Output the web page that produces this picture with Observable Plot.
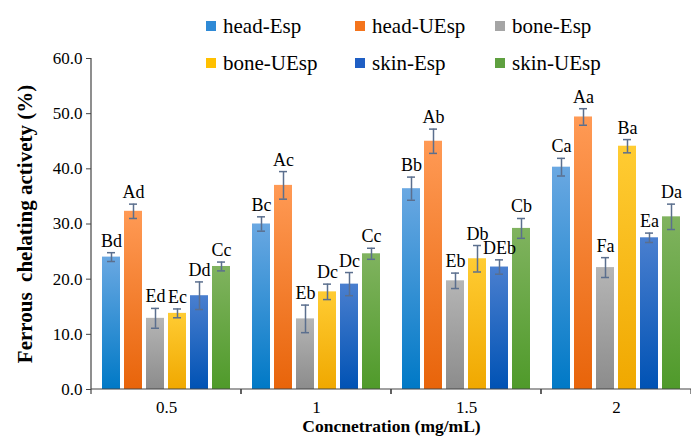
<!DOCTYPE html>
<html>
<head>
<meta charset="utf-8">
<script src="https://cdn.jsdelivr.net/npm/d3@7"></script>
<script src="https://cdn.jsdelivr.net/npm/@observablehq/plot@0.6"></script>
<style>
  html, body { margin: 0; padding: 0; background: #fff; font-family: "Liberation Serif", "Times New Roman", Times, serif; }
  #wrap { position: relative; width: 691px; height: 436px; font-family: "Liberation Serif", "Times New Roman", Times, serif; }
  #legend { position: absolute; left: 206px; top: 15px; display: grid; grid-template-columns: 149px 140px 140px; row-gap: 15px; font-size: 21px; color: #000; font-family: "Liberation Serif", "Times New Roman", Times, serif; }
  #legend .item { display: flex; align-items: center; height: 22px; white-space: nowrap; }
  #legend .sw { width: 10px; height: 10px; margin-right: 7px; flex: none; }
  svg text { font-family: "Liberation Serif", "Times New Roman", Times, serif; }
  svg [aria-label="fx-axis label"] text { font-weight: bold; font-size: 17.5px; }
  svg [aria-label="y-axis label"] text { font-weight: bold; font-size: 21px; }
</style>
</head>
<body>
<div id="wrap"><div id="legend"></div></div>
<script>
// ---- data ----
const concentrations = ["0.5", "1", "1.5", "2"];
const seriesNames = ["head-Esp", "head-UEsp", "bone-Esp", "bone-UEsp", "skin-Esp", "skin-UEsp"];

const headEspMean = [24.0, 30.0, 36.4, 40.3];
const headEspErr = [0.8, 1.3, 2.1, 1.6];
const headEspLabel = ["Bd", "Bc", "Bb", "Ca"];

const headUEspMean = [32.3, 37.0, 45.0, 49.4];
const headUEspErr = [1.3, 2.5, 2.2, 1.5];
const headUEspLabel = ["Ad", "Ac", "Ab", "Aa"];

const boneEspMean = [12.9, 12.8, 19.7, 22.1];
const boneEspErr = [1.8, 2.5, 1.4, 1.8];
const boneEspLabel = ["Ed", "Eb", "Eb", "Fa"];

const boneUEspMean = [13.8, 17.7, 23.7, 44.1];
const boneUEspErr = [0.8, 1.4, 2.4, 1.2];
const boneUEspLabel = ["Ec", "Dc", "Db", "Ba"];

const skinEspMean = [17.0, 19.1, 22.2, 27.5];
const skinEspErr = [2.5, 2.1, 1.3, 0.85];
const skinEspLabel = ["Dd", "Dc", "DEb", "Ea"];

const skinUEspMean = [22.3, 24.6, 29.2, 31.3];
const skinUEspErr = [0.8, 1.0, 1.8, 2.3];
const skinUEspLabel = ["Cc", "Cc", "Cb", "Da"];

const yTicks = [0, 10, 20, 30, 40, 50, 60];

// ---- styles ----
const gradTop = ["#6aa8e2", "#ff9a55", "#b5b5b5", "#ffcc33", "#4a7fcf", "#80b35f"];
const gradBottom = ["#0079c6", "#e8640a", "#8c8c8c", "#f0a800", "#0052b4", "#4f9a2a"];
const swatchColors = ["#2f8ad6", "#f4741c", "#a5a5a5", "#ffc000", "#1f5fc4", "#5fa040"];
const errColor = "#5b6f8e";
const axisColor = "#444";
const serif = "Liberation Serif, Times New Roman, Times, serif";

// ---- table ----
const means = [headEspMean, headUEspMean, boneEspMean, boneUEspMean, skinEspMean, skinUEspMean];
const errs = [headEspErr, headUEspErr, boneEspErr, boneUEspErr, skinEspErr, skinUEspErr];
const labels = [headEspLabel, headUEspLabel, boneEspLabel, boneUEspLabel, skinEspLabel, skinUEspLabel];
const rows = [];
concentrations.forEach((c, ci) => seriesNames.forEach((s, si) => rows.push({
  conc: c, series: s, mean: means[si][ci], err: errs[si][ci], label: labels[si][ci]
})));

function frameRender(index, scales, values, dims) {
  const g = d3.create("svg:g").attr("stroke", axisColor).attr("stroke-width", 1.2);
  const x0 = dims.marginLeft, x1 = dims.width - dims.marginRight;
  const yb = dims.height - dims.marginBottom, yt = dims.marginTop;
  g.append("line").attr("x1", x0).attr("x2", x1).attr("y1", yb).attr("y2", yb);
  for (const x of [x0, x1]) g.append("line").attr("x1", x).attr("x2", x).attr("y1", yb).attr("y2", yb + 5);
  if (index.length && index[0] === 0) g.append("line").attr("x1", x0).attr("x2", x0).attr("y1", yt).attr("y2", yb);
  return g.node();
}

const chart = Plot.plot({
  width: 691,
  height: 436,
  marginLeft: 91,
  marginRight: 0,
  marginTop: 58,
  marginBottom: 47,
  style: { fontFamily: serif, fontSize: "16px", color: "#000", background: "#fff" },
  fx: { domain: concentrations, padding: 0 },
  x: { domain: seriesNames, paddingInner: 0.16, paddingOuter: 0.4, axis: null },
  y: { domain: [0, 60] },
  color: { domain: seriesNames, range: seriesNames.map((_, i) => `url(#grad${i})`) },
  marks: [
    Plot.barY(rows, { fx: "conc", x: "series", y: "mean", fill: "series" }),
    Plot.ruleX(rows, { fx: "conc", x: "series", y1: d => d.mean - d.err, y2: d => d.mean + d.err, stroke: errColor, strokeWidth: 1.5 }),
    Plot.tickY(rows, { fx: "conc", x: "series", y: d => d.mean + d.err, stroke: errColor, strokeWidth: 1.5, insetLeft: 5, insetRight: 5 }),
    Plot.tickY(rows, { fx: "conc", x: "series", y: d => d.mean - d.err, stroke: errColor, strokeWidth: 1.5, insetLeft: 5, insetRight: 5 }),
    Plot.text(rows, { fx: "conc", x: "series", y: d => d.mean + d.err, text: "label", lineAnchor: "bottom", dy: -6, fontSize: 18, fill: "#000", fontFamily: serif }),
    Plot.axisY({ ticks: yTicks, tickFormat: ".1f", tickSize: 5, tickPadding: 4, stroke: axisColor, fill: "#000", fontSize: 17, fontFamily: serif,
      label: "Ferrous  chelating activety (%)", labelAnchor: "center", labelOffset: 74, labelArrow: "none" }),
    Plot.axisFx({ anchor: "bottom", tickSize: 0, tickPadding: 11, fontSize: 17, fill: "#000", fontFamily: serif,
      label: "Concnetration (mg/mL)", labelAnchor: "center", labelOffset: 42, labelArrow: "none" }),
    Plot.ruleY(concentrations, { fx: d => d, y: () => 0, render: frameRender })
  ]
});

// gradient definitions for the bar fills
const defs = d3.select(chart).insert("defs", ":first-child");
seriesNames.forEach((s, i) => {
  const lg = defs.append("linearGradient").attr("id", `grad${i}`).attr("x1", 0).attr("y1", 0).attr("x2", 0).attr("y2", 1);
  lg.append("stop").attr("offset", "0%").attr("stop-color", gradTop[i]);
  lg.append("stop").attr("offset", "100%").attr("stop-color", gradBottom[i]);
});

document.getElementById("wrap").prepend(chart);

// legend
const legend = d3.select("#legend");
seriesNames.forEach((s, i) => {
  const it = legend.append("div").attr("class", "item");
  it.append("span").attr("class", "sw").style("background", swatchColors[i]);
  it.append("span").text(s);
});
</script>
</body>
</html>
